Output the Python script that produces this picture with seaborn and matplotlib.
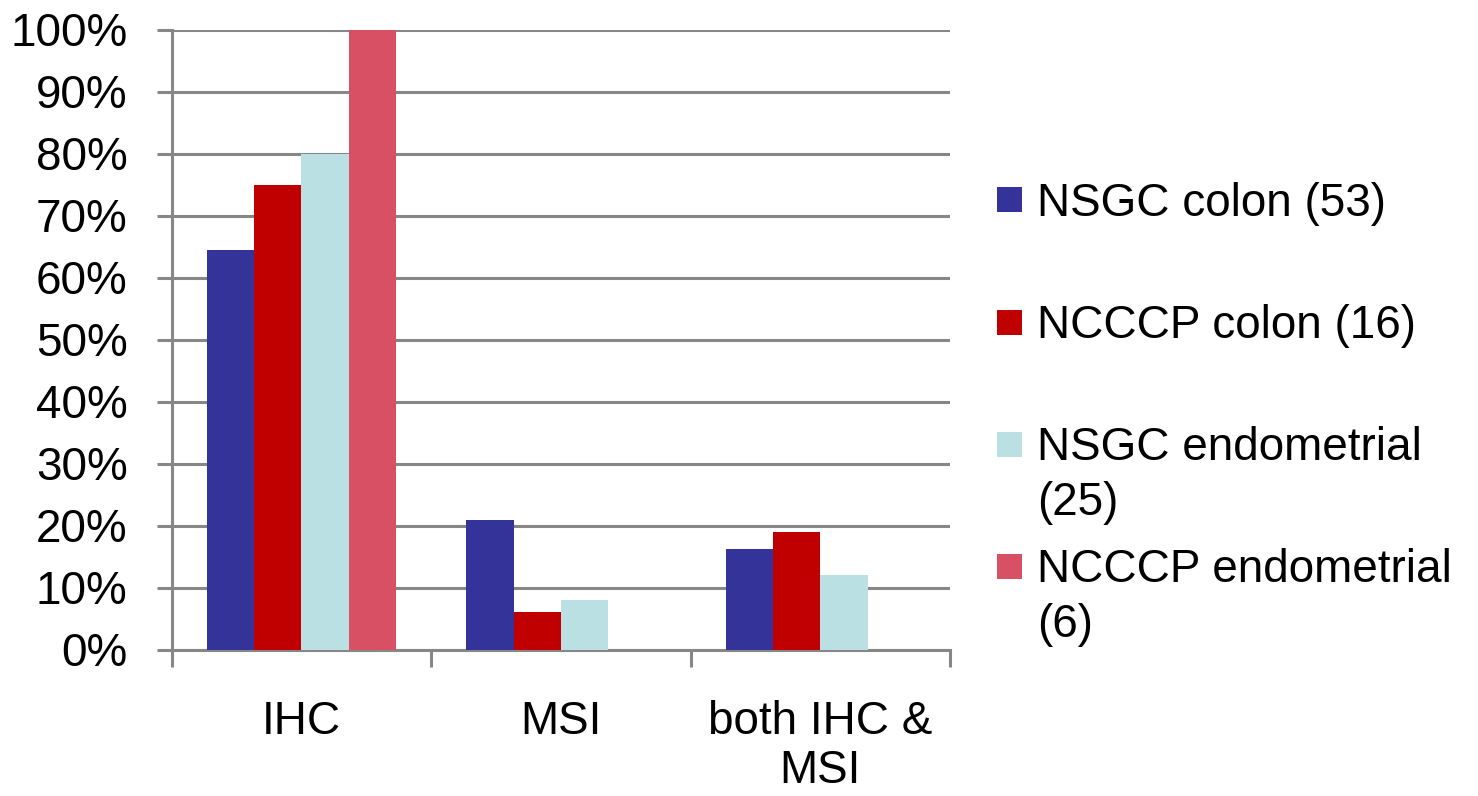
import matplotlib
matplotlib.use("Agg")
import matplotlib.pyplot as plt
from matplotlib.patches import Rectangle
from matplotlib.ticker import PercentFormatter, FixedLocator
import pandas as pd
import seaborn as sns

# Testing method used, per group of respondents
categories = ["IHC", "MSI", "both IHC &\nMSI"]
series = ["NSGC colon (53)", "NCCCP colon (16)",
          "NSGC endometrial\n(25)", "NCCCP endometrial\n(6)"]
nsgc_colon = [0.645, 0.209, 0.162]
ncccp_colon = [0.75, 0.06, 0.19]
nsgc_endometrial = [0.80, 0.08, 0.12]
ncccp_endometrial = [1.00, 0.00, 0.00]
colors = ["#333399", "#C00000", "#BBE0E3", "#D75064"]
y_ticks = [0.0, 0.1, 0.2, 0.3, 0.4, 0.5, 0.6, 0.7, 0.8, 0.9, 1.0]

values = [nsgc_colon, ncccp_colon, nsgc_endometrial, ncccp_endometrial]
df = pd.DataFrame(
    [(cat, s, v[i]) for s, v in zip(series, values) for i, cat in enumerate(categories)],
    columns=["category", "group", "share"],
)

sns.set_theme(style="white")
plt.rcParams["font.family"] = ["Liberation Sans", "DejaVu Sans"]

W, H = 1478, 796
fig = plt.figure(figsize=(W / 100, H / 100), dpi=100)
ax = fig.add_axes([171.7 / W, 1 - 649.5 / H, (950 - 171.7) / W, (649.5 - 29.5) / H])

sns.barplot(data=df, x="category", y="share", hue="group",
            order=categories, hue_order=series, palette=colors,
            saturation=1, width=0.73, linewidth=0, legend=False, ax=ax, zorder=3)

grey = "#878787"
ax.set_xlim(-0.5, len(categories) - 0.5)
ax.set_ylim(0, 1)
ax.yaxis.set_major_locator(FixedLocator(y_ticks))
ax.yaxis.set_major_formatter(PercentFormatter(1.0, decimals=0))
ax.yaxis.grid(True, color=grey, linewidth=2.2, zorder=0)
ax.xaxis.grid(False)
ax.set_axisbelow(True)

for side in ("top", "right"):
    ax.spines[side].set_visible(False)
for side in ("left", "bottom"):
    ax.spines[side].set_color(grey)
    ax.spines[side].set_linewidth(2.2)

ax.tick_params(axis="y", which="major", left=True, direction="out", length=10.8,
               width=2.2, color=grey, pad=21, labelsize=33, labelcolor="black")
ax.set_xticks(range(len(categories)))
ax.set_xticklabels(categories, fontsize=33, linespacing=1.15)
ax.set_xticks([i - 0.5 for i in range(len(categories) + 1)], minor=True)
ax.tick_params(axis="x", which="major", bottom=True, length=0, pad=36, labelcolor="black")
ax.tick_params(axis="x", which="minor", bottom=True, direction="out", length=12,
               width=2.2, color=grey)
ax.set_xlabel("")
ax.set_ylabel("")

# Legend entries placed evenly on the right, marker level with each first line
entry_y = [200, 322, 444, 566]
for label, color, yc in zip(series, colors, entry_y):
    fig.patches.append(Rectangle((997 / W, 1 - (yc + 12.5) / H), 25 / W, 25 / H,
                                 transform=fig.transFigure, facecolor=color,
                                 edgecolor="none"))
    fig.text(1036.7 / W, 1 - (yc - 18) / H, label, fontsize=33, va="top",
             ha="left", linespacing=1.32, color="black")

fig.savefig("out.png", dpi=100)
